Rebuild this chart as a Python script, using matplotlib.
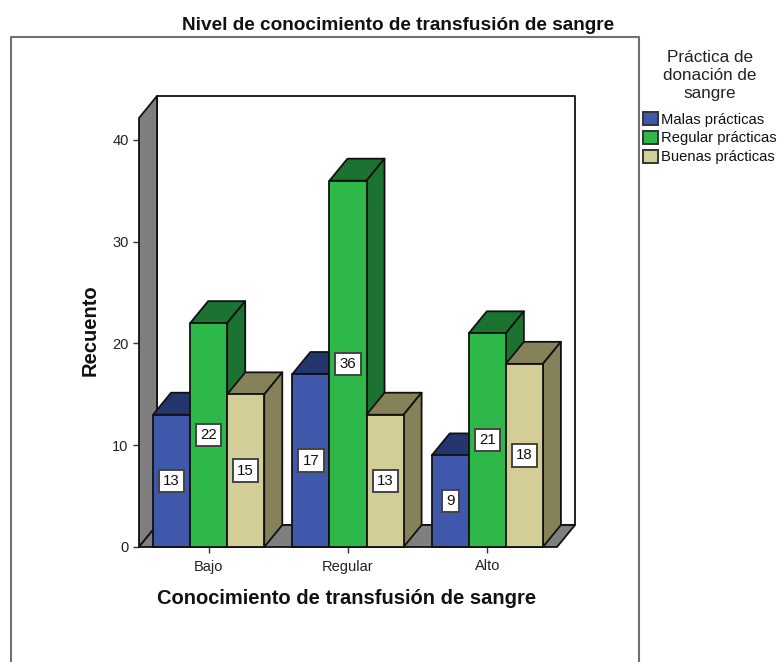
import matplotlib
matplotlib.use("Agg")
import matplotlib.pyplot as plt
from matplotlib.patches import Polygon, Patch
from matplotlib.lines import Line2D

plt.rcParams['font.family'] = ['Liberation Sans', 'DejaVu Sans']

categories = ["Bajo", "Regular", "Alto"]
malas = [13, 17, 9]
regular = [22, 36, 21]
buenas = [15, 13, 18]
series_names = ["Malas prácticas", "Regular prácticas", "Buenas prácticas"]
yticks = [0, 10, 20, 30, 40]

front_cols = ["#3F58AB", "#2EB84A", "#D3CE98"]
dark_cols = ["#25366F", "#1C7230", "#858259"]

W, H = 777, 662
fig = plt.figure(figsize=(W / 100, H / 100), dpi=100)
ax = fig.add_axes([139 / W, 1 - 547 / H, (557 - 139) / W, (547 - 118) / H])
ax.set_xlim(-0.5, 2.5)
ax.set_ylim(0, 42.16)

bar_w = 0.266
dx = 18 / 139.33
dy = 22 / 10.175
ymax = 42.16


def poly(pts, color, z):
    ax.add_patch(Polygon(pts, closed=True, facecolor=color, edgecolor="#111111",
                         linewidth=1.3, zorder=z, clip_on=False, joinstyle="round"))


# back wall, side wall, floor
poly([(-0.5 + dx, dy), (2.5 + dx, dy), (2.5 + dx, ymax + dy), (-0.5 + dx, ymax + dy)], "white", 1)
poly([(-0.5, 0), (-0.5 + dx, dy), (-0.5 + dx, ymax + dy), (-0.5, ymax)], "#7F7F7F", 2)
poly([(-0.5, 0), (-0.5 + dx, dy), (2.5 + dx, dy), (2.5, 0)], "#7F7F7F", 2)

z = 3
for i in range(len(categories)):
    for j, vals in enumerate([malas, regular, buenas]):
        v = vals[i]
        x0 = i + (j - 1.5) * bar_w
        x1 = x0 + bar_w
        poly([(x0, v), (x0 + dx, v + dy), (x1 + dx, v + dy), (x1, v)], dark_cols[j], z)
        poly([(x1, 0), (x1 + dx, dy), (x1 + dx, v + dy), (x1, v)], dark_cols[j], z)
        poly([(x0, 0), (x1, 0), (x1, v), (x0, v)], front_cols[j], z)
        z += 1
        ax.text((x0 + x1) / 2, v / 2, str(v), ha="center", va="center", fontsize=10.8,
                color="#111111", zorder=50,
                bbox=dict(boxstyle="square,pad=0.28", facecolor="white",
                          edgecolor="#444444", linewidth=1.4))

for s in ["top", "right", "left", "bottom"]:
    ax.spines[s].set_visible(False)
ax.patch.set_visible(False)
ax.set_xticks(range(len(categories)))
ax.set_xticklabels(categories)
ax.set_yticks(yticks)
ax.tick_params(axis="both", labelsize=10.5, length=4.5, width=1, color="#333333",
               labelcolor="#222222", pad=3)
ax.tick_params(axis="x", pad=4.5)

fig.text(398 / W, 1 - 25.5 / H, "Nivel de conocimiento de transfusión de sangre", ha="center",
         va="center", fontsize=13.7, fontweight="bold", color="#111111")
fig.text(347 / W, 1 - 599 / H, "Conocimiento de transfusión de sangre", ha="center",
         va="center", fontsize=14.5, fontweight="bold", color="#111111")
fig.text(90 / W, 1 - 330 / H, "Recuento", ha="center", va="center", rotation=90,
         fontsize=14.5, fontweight="bold", color="#111111")

# outer frame, open at the bottom
fig.add_artist(Line2D([11 / W, 11 / W, 639 / W, 639 / W],
                      [0, 1 - 37 / H, 1 - 37 / H, 0], color="#707070", linewidth=1.5))

handles = [Patch(facecolor=c, edgecolor="#333333", linewidth=1.4) for c in front_cols]
leg = fig.legend(handles, series_names, loc="upper left", bbox_to_anchor=(640 / W, 1 - 47 / H),
                 frameon=False, fontsize=10.6, title="Práctica de\ndonación de\nsangre",
                 title_fontsize=12.3, handlelength=1.0, handleheight=1.0, handletextpad=0.2,
                 labelspacing=0.28, borderpad=0.2, borderaxespad=0)
leg.get_title().set_color("#222222")
leg.get_title().set_multialignment("center")
leg.get_title().set_linespacing(1.25)
leg._legend_box.sep = 8
for t in leg.get_texts():
    t.set_color("#111111")

fig.savefig("out.png", dpi=100)
